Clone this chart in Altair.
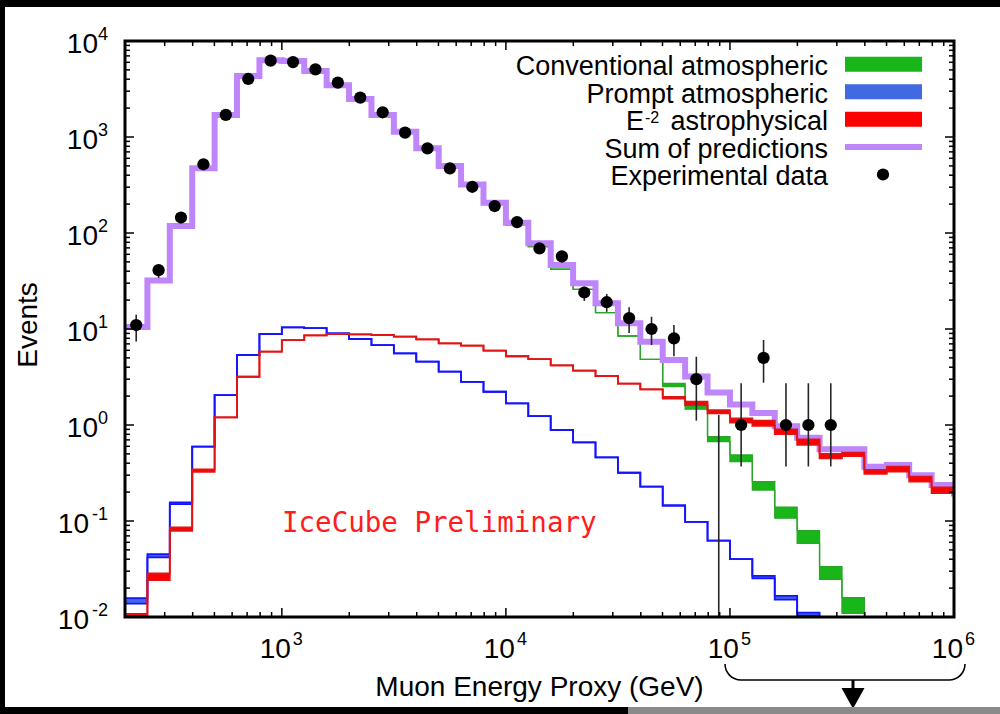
import altair as alt
import pandas as pd

# ---------------- data ----------------
# log10 of the bin edges (GeV)
log_edges = [2.3, 2.4, 2.5, 2.6, 2.7, 2.8, 2.9, 3.0, 3.1, 3.2, 3.3, 3.4, 3.5,
             3.6, 3.7, 3.8, 3.9, 4.0, 4.1, 4.2, 4.3, 4.4, 4.5, 4.6, 4.7, 4.8,
             4.9, 5.0, 5.1, 5.2, 5.3, 5.4, 5.5, 5.6, 5.7, 5.8, 5.9, 6.0]

# Sum of predictions (one value per bin; last entry = next bin beyond 10^6)
sum_pred = [10.5, 32, 118, 472, 1695, 4310, 6300, 6200, 4870, 3470, 2490, 1695,
            1135, 762, 499, 321, 207, 128, 78, 46.4, 29.9, 18.5, 11.5, 7.38,
            4.75, 3.2, 2.18, 1.64, 1.33, 0.97, 0.738, 0.56, 0.558, 0.368,
            0.383, 0.30, 0.237, 0.18]

# Conventional atmospheric (band low / high)
conv_lo = [10.3, 32, 118, 471, 1690, 4300, 6285, 6180, 4850, 3450, 2475, 1680,
           1120, 750, 490, 312, 200, 121, 72, 41.9, 25.9, 14.8, 8.45, 4.83,
           2.51, 1.46, 0.67, 0.415, 0.21, 0.107, 0.0586, 0.0247, 0.0109, 0.004]
conv_hi = [10.3, 32, 118, 471, 1690, 4300, 6285, 6180, 4850, 3450, 2475, 1680,
           1120, 750, 490, 312, 200, 121, 72, 41.9, 25.9, 14.8, 8.45, 4.83,
           2.72, 1.58, 0.755, 0.487, 0.257, 0.139, 0.0793, 0.0334, 0.0159, 0.006]

# Prompt atmospheric (band low / high)
prompt_lo = [0.0138, 0.0417, 0.150, 0.594, 2.05, 5.36, 8.87, 10.4, 10.2, 9.0,
             7.87, 6.8, 5.58, 4.57, 3.59, 2.82, 2.22, 1.68, 1.24, 0.887, 0.66,
             0.46, 0.318, 0.228, 0.145, 0.098, 0.0624, 0.040, 0.0252, 0.0152,
             0.0103, 0.005]
prompt_hi = [0.0157, 0.0452, 0.156, 0.594, 2.05, 5.36, 8.87, 10.4, 10.2, 9.0,
             7.87, 6.8, 5.58, 4.57, 3.59, 2.82, 2.22, 1.68, 1.24, 0.887, 0.66,
             0.46, 0.318, 0.228, 0.145, 0.098, 0.0624, 0.040, 0.0268, 0.0166,
             0.0111, 0.006]

# E^-2 astrophysical (band low / high)
astro_lo = [0.0100, 0.0242, 0.0788, 0.325, 1.20, 3.18, 5.8, 7.67, 8.6, 8.87,
            8.8, 8.66, 8.32, 7.81, 7.1, 6.7, 5.94, 5.2, 4.85, 4.18, 3.68, 3.24,
            2.70, 2.35, 1.88, 1.61, 1.32, 1.06, 0.98, 0.805, 0.62, 0.45, 0.475,
            0.31, 0.327, 0.257, 0.195, 0.16]
astro_hi = [0.0108, 0.0284, 0.086, 0.345, 1.20, 3.18, 5.8, 7.67, 8.6, 8.87,
            8.8, 8.66, 8.32, 7.81, 7.1, 6.7, 5.94, 5.2, 4.85, 4.18, 3.68, 3.24,
            2.70, 2.35, 1.96, 1.75, 1.43, 1.17, 1.11, 0.90, 0.71, 0.50, 0.515,
            0.34, 0.368, 0.29, 0.224, 0.18]

# Experimental data (bins 0..31) with error bar ends
counts = [11, 41, 145, 520, 1700, 4020, 6250, 6030, 5070, 3680, 2570, 1810,
          1110, 762, 472, 303, 191, 130, 69, 57, 24, 19, 13, 10, 8, 3, 0, 1,
          5, 1, 1, 1]
err_lo = [7.4, 34, 133, 498, 1660, 3960, 6170, 5950, 5000, 3620, 2520, 1770,
          1077, 735, 450, 286, 177, 119, 61, 49, 19.6, 15.1, 9.1, 6.8, 5.2,
          1.11, 0.01, 0.37, 2.76, 0.37, 0.37, 0.37]
err_hi = [14.1, 47, 157, 543, 1740, 4080, 6330, 6110, 5140, 3740, 2620, 1850,
          1143, 790, 494, 320, 205, 141, 77, 64, 27.6, 23.2, 16.8, 13.4, 11.0,
          5.14, 1.27, 2.72, 7.67, 2.72, 2.72, 2.72]

y_exponents = [-2, -1, 0, 1, 2, 3, 4]
x_exponents = [3, 4, 5, 6]
minor_mults = [2, 3, 4, 5, 6, 7, 8, 9]

legend_labels = ["Conventional atmospheric", "Prompt atmospheric",
                 " astrophysical", "Sum of predictions", "Experimental data"]

# ---------------- geometry / styles ----------------
W, H = 829, 576
FONT = "Liberation Sans"
GREEN, GREEN_EDGE = "#19b619", "#2aa52a"
BLUE_FILL, BLUE = "#4169e1", "#1414ff"
RED_FILL, RED = "#ff0000", "#e01414"
PURPLE = "#bf85fb"
LEG_FS = 27

xmin = 10 ** log_edges[0]
xs = alt.Scale(type="log", domain=[xmin, 1e6], nice=False)
ys = alt.Scale(type="log", domain=[0.01, 1e4], nice=False)
one = pd.DataFrame({"a": [0]})


def band_df(lo, hi):
    n = len(lo)
    return pd.DataFrame({"E": [10 ** e for e in log_edges[:n]], "lo": lo, "hi": hi})


def band_layers(df, fill, edge, w):
    base = alt.Chart(df)
    X = alt.X("E:Q", scale=xs, axis=None)
    area = base.mark_area(interpolate="step-after", color=fill, opacity=1,
                          clip=True).encode(x=X, y=alt.Y("hi:Q", scale=ys, axis=None),
                                            y2="lo:Q")
    l1 = base.mark_line(interpolate="step-after", color=edge, strokeWidth=w,
                        clip=True).encode(x=X, y=alt.Y("lo:Q", scale=ys, axis=None))
    l2 = base.mark_line(interpolate="step-after", color=edge, strokeWidth=w,
                        clip=True).encode(x=X, y=alt.Y("hi:Q", scale=ys, axis=None))
    return [area, l1, l2]


layers = []
layers += band_layers(band_df(conv_lo, conv_hi), GREEN, GREEN_EDGE, 1.3)

sum_df = pd.DataFrame({"E": [10 ** e for e in log_edges[:len(sum_pred)]], "v": sum_pred})
layers.append(alt.Chart(sum_df).mark_line(interpolate="step-after", color=PURPLE,
                                          strokeWidth=6, clip=True).encode(
    x=alt.X("E:Q", scale=xs, axis=None), y=alt.Y("v:Q", scale=ys, axis=None)))

layers += band_layers(band_df(prompt_lo, prompt_hi), BLUE_FILL, BLUE, 1.8)
layers += band_layers(band_df(astro_lo, astro_hi), RED_FILL, RED, 1.8)

# data points
centers = [10 ** ((log_edges[k] + log_edges[k + 1]) / 2) for k in range(len(counts))]
pts = pd.DataFrame({"E": centers, "n": counts, "lo": err_lo, "hi": err_hi})
layers.append(alt.Chart(pts).mark_rule(color="#262626", strokeWidth=1.6).encode(
    x=alt.X("E:Q", scale=xs, axis=None), y=alt.Y("lo:Q", scale=ys, axis=None), y2="hi:Q"))
layers.append(alt.Chart(pts).transform_filter("datum.n > 0").mark_circle(
    color="black", size=150, opacity=1).encode(
    x=alt.X("E:Q", scale=xs, axis=None), y=alt.Y("n:Q", scale=ys, axis=None)))

# ---------------- frame, ticks and labels ----------------
ymaj = pd.DataFrame({"v": [10.0 ** e for e in y_exponents]})
ymin_t = pd.DataFrame({"v": [m * 10.0 ** e for e in y_exponents[:-1] for m in minor_mults]})
xmaj = pd.DataFrame({"v": [10.0 ** e for e in x_exponents]})
xmin_t = pd.DataFrame({"v": [m * 10.0 ** e for e in [2] + x_exponents[:-1]
                             for m in minor_mults if m * 10.0 ** e >= xmin]})

def yticks(df, L):
    Y = alt.Y("v:Q", scale=ys, axis=None)
    return [alt.Chart(df).mark_rule(color="black", strokeWidth=1.5).encode(
                y=Y, x=alt.value(0), x2=alt.value(L)),
            alt.Chart(df).mark_rule(color="black", strokeWidth=1.5).encode(
                y=Y, x=alt.value(W), x2=alt.value(W - L))]

def xticks(df, L):
    X = alt.X("v:Q", scale=xs, axis=None)
    return [alt.Chart(df).mark_rule(color="black", strokeWidth=1.5).encode(
                x=X, y=alt.value(H), y2=alt.value(H - L)),
            alt.Chart(df).mark_rule(color="black", strokeWidth=1.5).encode(
                x=X, y=alt.value(0), y2=alt.value(L))]

layers += yticks(ymaj, 9) + yticks(ymin_t, 5) + xticks(xmaj, 9) + xticks(xmin_t, 5)

layers.append(alt.Chart(one).mark_rect(filled=False, stroke="black", strokeWidth=3).encode(
    x=alt.value(0), x2=alt.value(W), y=alt.value(0), y2=alt.value(H)))

# y tick labels: "10" with superscript exponent
ylab = pd.DataFrame({"v": [10.0 ** e for e in y_exponents], "e": y_exponents,
                     "s": [str(e) for e in y_exponents]})
Yl = alt.Y("v:Q", scale=ys, axis=None)
layers.append(alt.Chart(ylab).transform_filter("datum.e >= 0").mark_text(
    font=FONT, fontSize=28, align="right", baseline="alphabetic", dy=12).encode(
    y=Yl, x=alt.value(-27), text=alt.value("10")))
layers.append(alt.Chart(ylab).transform_filter("datum.e < 0").mark_text(
    font=FONT, fontSize=28, align="right", baseline="alphabetic", dy=12).encode(
    y=Yl, x=alt.value(-36), text=alt.value("10")))
layers.append(alt.Chart(ylab).mark_text(
    font=FONT, fontSize=18, align="right", baseline="alphabetic", dy=-1).encode(
    y=Yl, x=alt.value(-17), text="s:N"))

xlab = pd.DataFrame({"v": [10.0 ** e for e in x_exponents], "s": [str(e) for e in x_exponents]})
Xl = alt.X("v:Q", scale=xs, axis=None)
layers.append(alt.Chart(xlab).mark_text(
    font=FONT, fontSize=28, align="right", baseline="alphabetic", dx=9).encode(
    x=Xl, y=alt.value(H + 41), text=alt.value("10")))
layers.append(alt.Chart(xlab).mark_text(
    font=FONT, fontSize=18, align="left", baseline="alphabetic", dx=11).encode(
    x=Xl, y=alt.value(H + 28), text="s:N"))

# axis titles
layers.append(alt.Chart(one).mark_text(font=FONT, fontSize=28, align="center",
                                       baseline="alphabetic").encode(
    x=alt.value(W / 2), y=alt.value(H + 79), text=alt.value("Muon Energy Proxy (GeV)")))
layers.append(alt.Chart(one).mark_text(font=FONT, fontSize=28, align="center",
                                       baseline="alphabetic", angle=270).encode(
    x=alt.value(-88), y=alt.value(284), text=alt.value("Events")))

# watermark
layers.append(alt.Chart(one).mark_text(font="DejaVu Sans Mono", fontSize=27.5,
                                       align="left", baseline="alphabetic",
                                       color="#ff1c1c").encode(
    x=alt.value(157), y=alt.value(491), text=alt.value("IceCube Preliminary")))

# ---------------- legend ----------------
leg_base = [34, 61.5, 89, 116.5, 144]
for lab, yb in zip(legend_labels, leg_base):
    layers.append(alt.Chart(one).mark_text(font=FONT, fontSize=LEG_FS, align="right",
                                           baseline="alphabetic").encode(
        x=alt.value(703), y=alt.value(yb), text=alt.value(lab)))
layers.append(alt.Chart(one).mark_text(font=FONT, fontSize=LEG_FS, align="right",
                                       baseline="alphabetic").encode(
    x=alt.value(519), y=alt.value(89), text=alt.value("E")))
layers.append(alt.Chart(one).mark_text(font=FONT, fontSize=16, align="left",
                                       baseline="alphabetic").encode(
    x=alt.value(520), y=alt.value(82), text=alt.value("-2")))
for col, y0 in [(GREEN, 15.7), (BLUE_FILL, 43.2), (RED_FILL, 70.7)]:
    layers.append(alt.Chart(one).mark_rect(color=col).encode(
        x=alt.value(720), x2=alt.value(797), y=alt.value(y0), y2=alt.value(y0 + 15)))
layers.append(alt.Chart(one).mark_rule(color=PURPLE, strokeWidth=6).encode(
    x=alt.value(720), x2=alt.value(797), y=alt.value(106)))
layers.append(alt.Chart(one).mark_circle(color="black", size=150, opacity=1).encode(
    x=alt.value(758), y=alt.value(133.5)))

# ---------------- brace + arrow under 10^5..10^6 ----------------
layers.append(alt.Chart(one).mark_rule(color="black", strokeWidth=1.6).encode(
    x=alt.value(616), x2=alt.value(824), y=alt.value(639)))
for cx, t0, t1 in [(616, 3.14159, 4.71239), (824, 1.5708, 3.14159)]:
    layers.append(alt.Chart(one).mark_arc(color="black", radius=16.8, radius2=15.2,
                                          theta=t0, theta2=t1).encode(
        x=alt.value(cx), y=alt.value(623)))
layers.append(alt.Chart(one).mark_rule(color="black", strokeWidth=3).encode(
    x=alt.value(728), y=alt.value(639), y2=alt.value(652)))
layers.append(alt.Chart(one).mark_point(shape="M-1,-0.8L1,-0.8L0,1Z", filled=True,
                                        size=529, color="black", opacity=1).encode(
    x=alt.value(728), y=alt.value(656.2)))

# ---------------- black picture frame ----------------
for x0, x1, y0, y1, c in [(-125, 875, -41, -34, "black"), (-125, -120, -41, 673, "black"),
                          (-125, 503, 666, 673, "black"), (503, 875, 666, 673, "#8a8a8a")]:
    layers.append(alt.Chart(one).mark_rect(color=c).encode(
        x=alt.value(x0), x2=alt.value(x1), y=alt.value(y0), y2=alt.value(y1)))

chart = alt.layer(*layers).properties(
    width=W, height=H,
    autosize=alt.AutoSizeParams(type="none"),
    padding={"left": 125, "top": 41, "right": 46, "bottom": 97},
    background="white",
).configure_view(stroke=None)

chart.save("out.html", embed_options={"renderer": "svg", "actions": False})
